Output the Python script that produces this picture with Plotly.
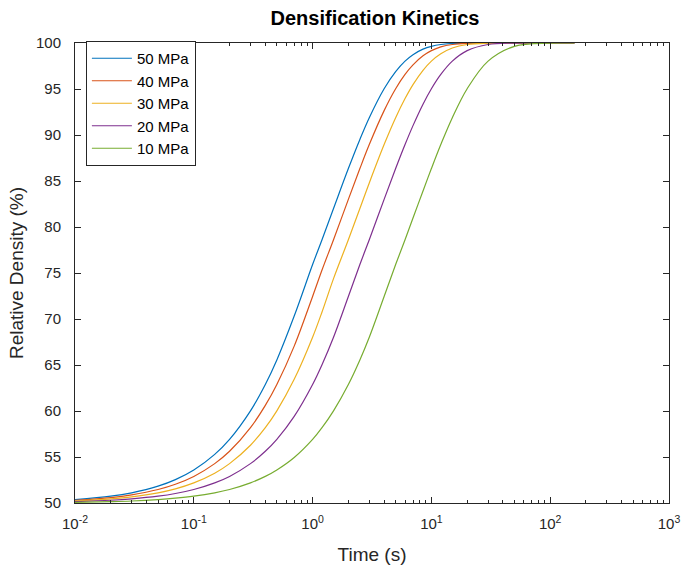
import plotly.graph_objects as go

# Time samples (s)
time_s = [0.01, 0.02, 0.03, 0.05, 0.07, 0.1, 0.15, 0.2, 0.3, 0.4, 0.5, 0.7, 1, 1.2, 1.5,
          2, 2.5, 3, 4, 5, 6, 7, 8.5, 10, 12, 15, 20, 30, 50, 100, 160]

# Relative density (%)
rd_50 = [50.37, 50.74, 51.11, 51.83, 52.54, 53.59, 55.29, 56.92, 60.02, 62.88, 65.55, 70.32, 75.92, 78.62, 82.01,
         86.35, 89.52, 91.88, 95.03, 96.89, 98.03, 98.73, 99.33, 99.64, 99.84, 99.95, 99.99, 100.0, 100.0, 100.0, 100.0]
rd_40 = [50.30, 50.59, 50.89, 51.47, 52.04, 52.89, 54.28, 55.62, 58.19, 60.61, 62.88, 67.05, 72.45, 75.32, 78.62,
         83.00, 86.35, 88.96, 92.65, 95.03, 96.59, 97.63, 98.61, 99.17, 99.58, 99.84, 99.97, 100.0, 100.0, 100.0, 100.0]
rd_30 = [50.22, 50.45, 50.67, 51.11, 51.54, 52.19, 53.24, 54.28, 56.28, 58.19, 60.02, 63.44, 68.02, 70.76, 74.39,
         78.62, 82.01, 84.79, 88.96, 91.88, 93.96, 95.48, 97.03, 98.03, 98.83, 99.46, 99.84, 99.98, 100.0, 100.0, 100.0]
rd_20 = [50.15, 50.30, 50.45, 50.74, 51.03, 51.47, 52.19, 52.89, 54.28, 55.62, 56.92, 59.41, 62.88, 65.03, 68.02,
         72.45, 75.92, 78.62, 83.00, 86.35, 88.96, 91.02, 93.35, 95.03, 96.59, 98.03, 99.17, 99.84, 99.99, 100.0, 100.0]
rd_10 = [50.07, 50.15, 50.22, 50.37, 50.52, 50.74, 51.11, 51.47, 52.19, 52.89, 53.59, 54.95, 56.92, 58.19, 60.02,
         62.88, 65.55, 68.02, 72.45, 75.92, 78.62, 80.97, 83.92, 86.35, 88.96, 91.88, 95.03, 98.03, 99.64, 99.99, 100.0]

series_names = ["50 MPa", "40 MPa", "30 MPa", "20 MPa", "10 MPa"]
series_values = [rd_50, rd_40, rd_30, rd_20, rd_10]
colors = ["#0072BD", "#D95319", "#EDB120", "#7E2F8E", "#77AC30"]

x_tickvals = [0.01, 0.1, 1, 10, 100, 1000]
x_ticktext = ["10<sup>-2</sup>", "10<sup>-1</sup>", "10<sup>0</sup>", "10<sup>1</sup>", "10<sup>2</sup>", "10<sup>3</sup>"]
x_minor = [m * d for d in [0.01, 0.1, 1, 10, 100] for m in range(2, 10)]
y_tickvals = [50, 55, 60, 65, 70, 75, 80, 85, 90, 95, 100]

fig = go.Figure()
for i, (name, vals, col) in enumerate(zip(series_names, series_values, colors)):
    fig.add_trace(go.Scatter(
        x=time_s, y=vals, mode="lines", name=name,
        line=dict(color=col, width=1.2, shape="spline", smoothing=1.0),
        legendgroup=f"g{i}",
    ))

axis_color = "#262626"
font_family = "Liberation Sans, Arial, sans-serif"

fig.update_layout(
    width=692, height=575,
    margin=dict(l=75, r=17, t=43, b=72),
    paper_bgcolor="white", plot_bgcolor="white",
    font=dict(family=font_family, color=axis_color, size=15),
    title=dict(text="<b>Densification Kinetics</b>", x=(75 + 675) / 2 / 692, xanchor="center",
               y=1 - 18 / 575, yanchor="middle",
               font=dict(size=20, color="black", family=font_family)),
    showlegend=True,
    legend=dict(
        x=(86 - 75) / 600, y=1 - (41 - 43) / 460, xanchor="left", yanchor="top",
        bgcolor="white", bordercolor=axis_color, borderwidth=1,
        font=dict(size=15, color="black", family=font_family),
        itemwidth=40, tracegroupgap=0,
    ),
    xaxis=dict(
        type="log", range=[-2, 3],
        tickvals=x_tickvals, ticktext=x_ticktext,
        ticks="inside", ticklen=6, tickcolor=axis_color,
        minor=dict(tickmode="array", tickvals=x_minor, ticks="inside", ticklen=3,
                   tickcolor=axis_color, showgrid=False),
        showline=True, linecolor=axis_color, linewidth=1, mirror="ticks",
        showgrid=False, zeroline=False,
        ticklabelstandoff=7, ticklabeloverflow="allow",
        tickfont=dict(size=15, color=axis_color),
        title=dict(text="Time (s)", font=dict(size=19, color=axis_color), standoff=16),
    ),
    yaxis=dict(
        range=[50, 100],
        tickvals=y_tickvals,
        ticks="inside", ticklen=6, tickcolor=axis_color,
        showline=True, linecolor=axis_color, linewidth=1, mirror="ticks",
        showgrid=False, zeroline=False,
        ticklabelstandoff=10,
        tickfont=dict(size=15, color=axis_color),
        title=dict(text="Relative Density (%)", font=dict(size=19, color=axis_color), standoff=7),
    ),
)

fig.write_html("out.html")
